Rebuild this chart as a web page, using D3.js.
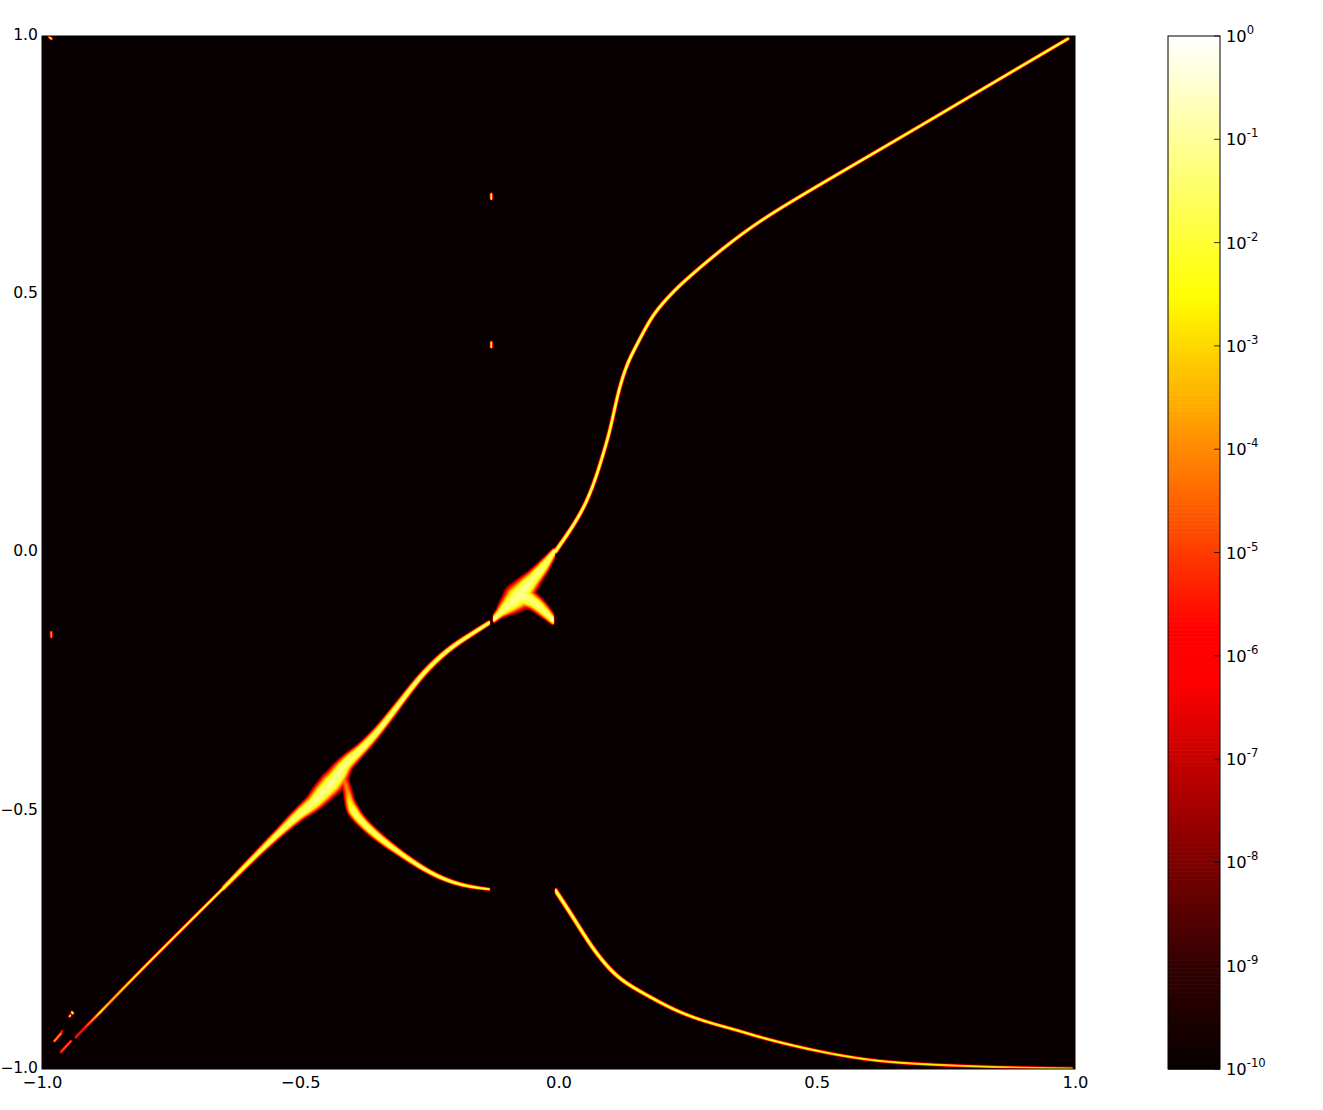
<!DOCTYPE html>
<html><head><meta charset="utf-8">
<script src="https://cdnjs.cloudflare.com/ajax/libs/d3/7.8.5/d3.min.js"></script>
<style>html,body{margin:0;padding:0;background:#fff}svg{display:block}
text{font-family:"DejaVu Sans",sans-serif;font-size:16.3px;fill:#000}</style>
</head><body><svg id="c" width="1323" height="1110"></svg>
<script>
// ---- data (axis units; peak = log10 density; spread = half width in axis units)
const xTicks=[-1,-0.5,0,0.5,1];
const yTicks=[-1,-0.5,0,0.5,1];
const colorbarExponents=[0,-1,-2,-3,-4,-5,-6,-7,-8,-9,-10];

const upperX=[-.007,.022,.051,.071,.086,.100,.115,.132,.148,.177,.200,.229,.255,.293,.371,.468,.661,.855,.986];
const upperY=[.003,.044,.092,.144,.193,.241,.315,.367,.398,.454,.483,.514,.537,.570,.632,.692,.804,.919,.996];
const upperSpread=[.0055,.005,.0046,.0044,.0044,.0044,.0044,.0044,.0044,.0044,.0044,.0044,.0042,.0042,.004,.004,.0038,.0038,.0038];
const upperPeak=[-1.2,-1.2,-1.2,-1.2,-1.2,-1.2,-1.2,-1,-1,-1.2,-1.2,-1.2,-1.2,-1.2,-1.2,-1.2,-1.2,-1.2,-1.2];

const blobX=[-.009,-.028,-.049,-.071,-.080,-.098,-.113,-.127];
const blobY=[.003,-.024,-.049,-.073,-.086,-.102,-.115,-.129];
const blobSpread=[.0075,.014,.019,.027,.031,.021,.012,.0075];
const blobPeak=[-1.2,-1.3,-1.3,-1.2,-1.2,-1.3,-1.3,-1];

const armX=[-.075,-.051,-.030,-.010];
const armY=[-.082,-.092,-.111,-.132];
const armSpread=[.027,.019,.015,.009];
const armPeak=[-1.2,-1.4,-1.5,-1];

const midX=[-.135,-.171,-.210,-.249,-.278,-.307,-.349,-.384,-.415,-.425,-.440,-.460,-.475,-.500,-.539,-.578,-.651];
const midY=[-.135,-.158,-.183,-.218,-.251,-.289,-.344,-.382,-.408,-.427,-.446,-.466,-.485,-.502,-.539,-.576,-.650];
const midSpread=[.0055,.006,.0065,.007,.0075,.0085,.0105,.0135,.018,.023,.026,.023,.019,.015,.0105,.008,.005];
const midPeak=[-1.2,-1.2,-1.2,-1.2,-1.2,-1.2,-1.3,-1.3,-1.3,-1.2,-1.2,-1.2,-1.3,-1.3,-1.4,-1.5,-1.6];

const tailX=[-.651,-.791,-.870,-.888,-.920,-.936];
const tailY=[-.650,-.789,-.870,-.889,-.921,-.938];
const tailSpread=[.0034,.0032,.0032,.0032,.003,.003];
const tailPeak=[-1.5,-1.7,-2.6,-2,-5,-5];

const stubX=[-.945,-.965];
const stubY=[-.945,-.967];
const stubSpread=[.0026,.003];
const stubPeak=[-3.5,-4.5];

const lowerArmX=[-.419,-.409,-.406,-.400,-.379,-.349,-.307,-.249,-.191,-.135];
const lowerArmY=[-.431,-.460,-.479,-.499,-.524,-.551,-.582,-.621,-.644,-.651];
const lowerArmSpread=[.011,.0105,.0115,.014,.012,.0105,.0078,.006,.0048,.0035];
const lowerArmPeak=[-4.5,-4,-2.8,-1.5,-1.4,-1.4,-1.3,-1.3,-1.4,-1.6];

const lowerX=[-.007,.028,.061,.094,.125,.177,.229,.288,.346,.396,.500,.603,.700,.855,.994];
const lowerY=[-.653,-.706,-.760,-.802,-.831,-.860,-.888,-.909,-.924,-.940,-.965,-.983,-.990,-.996,-.998];
const lowerSpread=[.0055,.0052,.005,.005,.0048,.0044,.0042,.0038,.0038,.0036,.0034,.0032,.0032,.003,.003];
const lowerPeak=[-1.3,-1.3,-1.3,-1.3,-1.3,-1.4,-1.4,-1.5,-1.6,-1.6,-1.8,-1.9,-2,-2.2,-2.2];

// isolated specks: [x0,y0,x1,y1,spread,peak]
const speckX0=[-.131,-.131,-.983,-.987,-.943,-.946,-.977,-.962];
const speckY0=[.695,.408,-.153,.999,-.889,-.895,-.945,-.925];
const speckX1=[-.131,-.131,-.983,-.982,-.941,-.948,-.964,-.967];
const speckY1=[.685,.398,-.163,.995,-.892,-.898,-.930,-.935];
const speckSpread=[.0027,.0027,.0027,.0026,.0028,.0026,.0028,.0026];
const speckPeak=[-1,-1,-3,-1.5,-.8,-1.5,-3,-5];

// colour map stops (log10 density)
const redStops=[-10,-9,-8,-7,-6.25];
const redValues=[.03,.2,.49,.78,1];
const greenStops=[-5.75,-2.5];
const blueStops=[-2.5,0];

// ---- layout
const L=42,R=1075,T=36,B=1069, CL=1168, CR=1220;
const x=d3.scaleLinear().domain([-1,1]).range([0,R-L]);
const y=d3.scaleLinear().domain([1,-1]).range([0,B-T]);
const n=R-L;
const unitPx=(R-L)/2;
const svg=d3.select('#c');

const rs=d3.scaleLinear().domain(redStops).range(redValues).clamp(true);
const gs=d3.scaleLinear().domain(greenStops).range([0,1]).clamp(true);
const bs=d3.scaleLinear().domain(blueStops).range([0,1]).clamp(true);
const hot=v=>d3.rgb(rs(v)*255,gs(v)*255,bs(v)*255).formatHex();

const branches=[
 {x:upperX,y:upperY,s:upperSpread,p:upperPeak,clip:false},
 {x:midX,y:midY,s:midSpread,p:midPeak,clip:true},
 {x:tailX,y:tailY,s:tailSpread,p:tailPeak,clip:false},
 {x:stubX,y:stubY,s:stubSpread,p:stubPeak,clip:false},
 {x:lowerArmX,y:lowerArmY,s:lowerArmSpread,p:lowerArmPeak,clip:true},
 {x:lowerX,y:lowerY,s:lowerSpread,p:lowerPeak,clip:true},
 {x:blobX,y:blobY,s:blobSpread,p:blobPeak,clip:true},
 {x:armX,y:armY,s:armSpread,p:armPeak,clip:true},
];
speckX0.forEach((_,i)=>branches.push({x:[speckX0[i],speckX1[i]],y:[speckY0[i],speckY1[i]],
  s:[speckSpread[i],speckSpread[i]],p:[speckPeak[i],speckPeak[i]],clip:false}));

// density field, stamped along each smooth branch
const field=new Float32Array(n*n).fill(-10);
const probe=svg.append('path').attr('fill','none').attr('stroke','none');
const lineGen=d3.line().curve(d3.curveBasis);
const expOf=d3.scaleLinear().domain([4,8]).range([2,2.5]).clamp(true);
branches.forEach(b=>{
  const pts=b.x.map((v,i)=>[x(v),y(b.y[i])]);
  probe.attr('d',lineGen(pts));
  const node=probe.node(), total=node.getTotalLength();
  const cum=[0];
  for(let i=1;i<pts.length;i++)cum.push(cum[i-1]+Math.hypot(pts[i][0]-pts[i-1][0],pts[i][1]-pts[i-1][1]));
  const dom=cum.map(c=>c/cum[cum.length-1]);
  const rad=d3.scaleLinear().domain(dom).range(b.s.map(v=>v*unitPx));
  const pk=d3.scaleLinear().domain(dom).range(b.p);
  const xmin=d3.min(pts,d=>d[0]), xmax=d3.max(pts,d=>d[0]);
  for(let s=0;s<=total;s+=.5){
    const p=node.getPointAtLength(s), t=s/total, r=rad(t), q=pk(t), e=expOf(r);
    const i0=Math.max(0,Math.floor(p.x-r)), i1=Math.min(n-1,Math.ceil(p.x+r));
    const j0=Math.max(0,Math.floor(p.y-r)), j1=Math.min(n-1,Math.ceil(p.y+r));
    for(let j=j0;j<=j1;j++)for(let i=i0;i<=i1;i++){
      if(b.clip&&(i+.5<xmin||i-.5>xmax))continue;
      const d=Math.hypot(i-p.x,j-p.y)/r;
      if(d>=1)continue;
      const v=q-(q+10)*Math.pow(d,e);
      const k=j*n+i;
      if(v>field[k])field[k]=v;
    }
  }
});
probe.remove();

// plot
const plot=svg.append('g').attr('transform',`translate(${L},${T})`);
plot.append('rect').attr('width',n).attr('height',n).attr('fill',hot(-10));
const thresholds=d3.range(-9.7,-0.1,.3);
const contours=d3.contours().size([n,n]).thresholds(thresholds)(field);
const geo=d3.geoPath();
plot.append('g').selectAll('path').data(contours).join('path')
  .attr('d',geo).attr('fill',d=>hot(d.value+.15));
plot.append('rect').attr('width',n).attr('height',n).attr('fill','none').attr('stroke','#000').attr('stroke-width',1);

// axes
const axB=svg.append('g').attr('transform',`translate(${L},${B})`)
  .call(d3.axisBottom(x).tickValues(xTicks).tickSize(0).tickPadding(7).tickFormat(d3.format('.1f')));
const axL=svg.append('g').attr('transform',`translate(${L},${T})`)
  .call(d3.axisLeft(y).tickValues(yTicks).tickSize(0).tickPadding(4).tickFormat(d3.format('.1f')));
axB.select('.domain').remove();axL.select('.domain').remove();
axB.selectAll('text').attr('font-family','"DejaVu Sans",sans-serif').attr('font-size',16.3).attr('dy','.75em');
axL.selectAll('text').attr('font-family','"DejaVu Sans",sans-serif').style('font-size','15.6px').attr('dy','.22em');

// colour bar
const cb=d3.scaleLog().domain([1e-10,1]).range([B,T]);
const barLevels=d3.range(0,256).map(i=>-10+i*10/256);
svg.append('g').selectAll('rect').data(barLevels).join('rect')
  .attr('x',CL).attr('width',CR-CL)
  .attr('y',d=>cb(Math.pow(10,d+10/256)))
  .attr('height',d=>cb(Math.pow(10,d))-cb(Math.pow(10,d+10/256))+.6)
  .attr('fill',d=>hot(d+5/256));
svg.append('rect').attr('x',CL).attr('y',T).attr('width',CR-CL).attr('height',B-T)
  .attr('fill','none').attr('stroke','#000').attr('stroke-width',1);
const ct=svg.append('g').selectAll('g').data(colorbarExponents).join('g')
  .attr('transform',d=>`translate(${CR},${cb(Math.pow(10,d))})`);
ct.append('line').attr('x1',-6).attr('x2',0).attr('stroke','#000').attr('stroke-width',.8);
const lab=ct.append('text').attr('x',6).attr('y',6);
lab.append('tspan').text('10');
lab.append('tspan').attr('dy',-8).style('font-size','11.6px').text(d=>d===0?'0':'-'+(-d));
</script></body></html>
